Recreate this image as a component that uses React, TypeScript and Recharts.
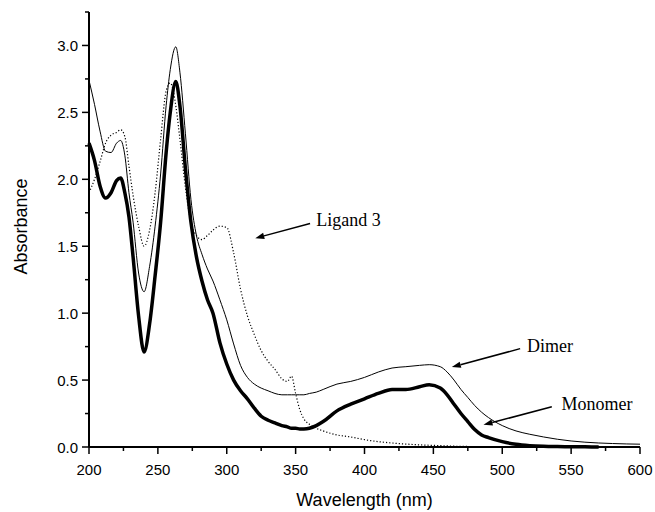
import { LineChart, Line, XAxis, YAxis, ReferenceLine, ReferenceDot } from "recharts";

// wavelength grid (nm) shared by the three spectra
const wavelengths = [
  200, 204, 208, 212, 216, 220, 223, 226, 229, 232, 236, 240, 244, 248, 252, 256,
  259, 263, 266, 270, 274, 278, 282, 286, 290, 295, 300, 305, 310, 315, 320, 325,
  330, 335, 340, 344, 347, 350, 353, 356, 360, 365, 370, 380, 390, 400, 410, 420,
  430, 440, 447, 455, 460, 465, 470, 475, 480, 485, 490, 500, 510, 520, 530, 540,
  550, 560, 570, 580, 590, 600,
];

const monomer = [
  2.27, 2.14, 1.95, 1.86, 1.9, 1.99, 2.01, 1.9, 1.72, 1.42, 0.98, 0.71, 0.92, 1.28, 1.68, 2.2,
  2.5, 2.73, 2.55, 2.08, 1.68, 1.42, 1.24, 1.1, 1.0, 0.78, 0.62, 0.5, 0.42, 0.36, 0.29, 0.23,
  0.2, 0.18, 0.16, 0.15, 0.14, 0.14, 0.135, 0.135, 0.14, 0.16, 0.19, 0.27, 0.32, 0.36, 0.4, 0.43,
  0.43, 0.45, 0.465, 0.44, 0.39, 0.32, 0.25, 0.19, 0.13, 0.09, 0.07, 0.04, 0.02, 0.01, 0.005, 0.003,
  0.002, 0.001, 0, null, null, null,
];

const dimer = [
  2.74, 2.56, 2.36, 2.21, 2.2, 2.27, 2.29, 2.18, 1.9, 1.68, 1.3, 1.16, 1.35, 1.65, 2.04, 2.55,
  2.82, 2.99, 2.8, 2.34, 1.85, 1.58, 1.44, 1.33, 1.24, 1.1, 0.95, 0.77, 0.61, 0.52, 0.47, 0.44,
  0.42, 0.4, 0.39, 0.39, 0.39, 0.39, 0.39, 0.39, 0.4, 0.41, 0.43, 0.47, 0.49, 0.52, 0.56, 0.59,
  0.6, 0.61, 0.615, 0.6, 0.56, 0.5, 0.43, 0.37, 0.31, 0.26, 0.22, 0.16, 0.12, 0.095, 0.075, 0.058,
  0.045, 0.036, 0.03, 0.026, 0.023, 0.021,
];

const ligand = [
  1.9, 2.0, 2.13, 2.27, 2.33, 2.35, 2.37, 2.32, 2.1, 1.88, 1.65, 1.5, 1.62, 1.9, 2.3, 2.66,
  2.72, 2.55, 2.3, 1.94, 1.68, 1.58, 1.55, 1.58, 1.62, 1.65, 1.64, 1.45, 1.18, 0.98, 0.84, 0.72,
  0.64, 0.58, 0.51, 0.49, 0.53, 0.4, 0.28, 0.21, 0.17, 0.14, 0.12, 0.09, 0.075, 0.055, 0.04, 0.03,
  0.022, 0.016, 0.013, 0.01, 0.008, 0.006, 0.005, 0.004, 0.003, 0.002, 0.002, 0.001, 0, 0, null, null,
  null, null, null, null, null, null,
];

const xTicks = [200, 225, 250, 275, 300, 325, 350, 375, 400, 425, 450, 475, 500, 525, 550, 575, 600];
const yTicks = [0, 0.25, 0.5, 0.75, 1, 1.25, 1.5, 1.75, 2, 2.25, 2.5, 2.75, 3, 3.25];

// annotations: label anchor and arrow (from -> to), in data units
const labels = [
  { text: "Ligand 3", x: 365, y: 1.65 },
  { text: "Dimer", x: 518, y: 0.71 },
  { text: "Monomer", x: 543, y: 0.28 },
];
const arrows = [
  { from: [360.5, 1.67], to: [320.7, 1.56] },
  { from: [513, 0.735], to: [463.4, 0.597] },
  { from: [536, 0.3], to: [486.4, 0.166] },
];

const data = wavelengths.map((nm, i) => ({
  nm,
  monomer: monomer[i],
  dimer: dimer[i],
  ligand: ligand[i],
}));

const sans = '"Liberation Sans", Arial, sans-serif';
const serif = '"Liberation Serif", "Times New Roman", serif';

function XTick({ x, y, payload }: any) {
  const major = payload.value % 50 === 0;
  return (
    <g>
      <line x1={x} x2={x} y1={y} y2={y + (major ? 7 : 4)} stroke="#000" strokeWidth={1.5} />
      {major && (
        <text x={x} y={y + 28} textAnchor="middle" fontSize={15} fontFamily={sans} fill="#000">
          {payload.value}
        </text>
      )}
    </g>
  );
}

function YTick({ x, y, payload }: any) {
  const v = payload.value;
  const major = Math.abs(v * 2 - Math.round(v * 2)) < 1e-6;
  return (
    <g>
      <line x1={x} x2={x - (major ? 7 : 4)} y1={y} y2={y} stroke="#000" strokeWidth={1.5} />
      {major && (
        <text x={x - 11} y={y + 5.5} textAnchor="end" fontSize={15} fontFamily={sans} fill="#000">
          {v.toFixed(1)}
        </text>
      )}
    </g>
  );
}

function Arrow(props: any) {
  const { x1, y1, x2, y2 } = props;
  const a = Math.atan2(y2 - y1, x2 - x1);
  const len = 9;
  const w = 3.2;
  const bx = x2 - len * Math.cos(a);
  const by = y2 - len * Math.sin(a);
  const p1 = `${bx + w * Math.sin(a)},${by - w * Math.cos(a)}`;
  const p2 = `${bx - w * Math.sin(a)},${by + w * Math.cos(a)}`;
  return (
    <g>
      <line x1={x1} y1={y1} x2={bx} y2={by} stroke="#000" strokeWidth={1.5} />
      <polygon points={`${x2},${y2} ${p1} ${p2}`} fill="#000" />
    </g>
  );
}

export default function App() {
  return (
    <div style={{ position: "absolute", left: 0, top: 0, width: 655, height: 512, background: "#fff" }}>
      <LineChart width={655} height={512} data={data} margin={{ top: 12, right: 15, bottom: 0, left: 0 }}>
        <XAxis
          dataKey="nm"
          type="number"
          domain={[200, 600]}
          ticks={xTicks}
          interval={0}
          height={65}
          tickSize={0}
          tickMargin={0}
          tickLine={false}
          axisLine={{ stroke: "#000", strokeWidth: 2 }}
          tick={<XTick />}
          label={({ viewBox }: any) => (
            <text
              x={viewBox.x + viewBox.width / 2}
              y={viewBox.y + 59}
              textAnchor="middle"
              fontSize={18}
              fontFamily={sans}
              fill="#000"
            >
              Wavelength (nm)
            </text>
          )}
        />
        <YAxis
          type="number"
          domain={[0, 3.25]}
          ticks={yTicks}
          interval={0}
          width={89}
          tickSize={0}
          tickMargin={0}
          tickLine={false}
          axisLine={{ stroke: "#000", strokeWidth: 2 }}
          tick={<YTick />}
          label={({ viewBox }: any) => {
            const cx = viewBox.x + 21;
            const cy = viewBox.y + viewBox.height / 2 - 3;
            return (
              <text
                x={cx}
                y={cy}
                transform={`rotate(-90 ${cx} ${cy})`}
                textAnchor="middle"
                dominantBaseline="central"
                fontSize={18}
                fontFamily={sans}
                fill="#000"
              >
                Absorbance
              </text>
            );
          }}
        />
        <Line
          dataKey="ligand"
          type="monotone"
          stroke="#000"
          strokeWidth={1.2}
          strokeDasharray="1.2 2"
          dot={false}
          activeDot={false}
          isAnimationActive={false}
        />
        <Line
          dataKey="dimer"
          type="monotone"
          stroke="#000"
          strokeWidth={1}
          dot={false}
          activeDot={false}
          isAnimationActive={false}
        />
        <Line
          dataKey="monomer"
          type="monotone"
          stroke="#000"
          strokeWidth={3.5}
          dot={false}
          activeDot={false}
          isAnimationActive={false}
        />
        {arrows.map((a, i) => (
          <ReferenceLine
            key={`a${i}`}
            segment={[
              { x: a.from[0], y: a.from[1] },
              { x: a.to[0], y: a.to[1] },
            ]}
            shape={<Arrow />}
          />
        ))}
        {labels.map((l) => (
          <ReferenceDot
            key={l.text}
            x={l.x}
            y={l.y}
            r={0}
            shape={(p: any) => (
              <text x={p.cx} y={p.cy} fontSize={18} fontFamily={serif} fill="#000">
                {l.text}
              </text>
            )}
          />
        ))}
      </LineChart>
    </div>
  );
}
